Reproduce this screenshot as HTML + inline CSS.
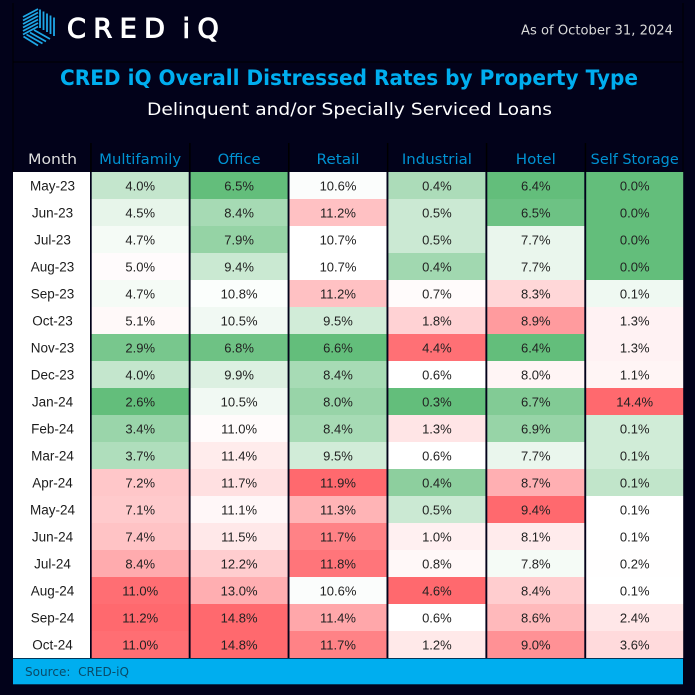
<!DOCTYPE html>
<html>
<head>
<meta charset="utf-8">
<title>CRED iQ Overall Distressed Rates by Property Type</title>
<style>
html,body{margin:0;padding:0;background:#02021a;width:695px;height:695px;overflow:hidden}
svg{display:block}
</style>
</head>
<body>
<svg id="chart" xmlns="http://www.w3.org/2000/svg" width="695" height="695" viewBox="0 0 695 695">
  <rect x="0" y="0" width="695" height="695" fill="#02021a"/>
  <path d="M13 3V172M683 3V172M13 62H683" stroke="#000" stroke-width="1" fill="none"/>
  <g stroke="#1ea7e6" stroke-width="1.8" fill="none">
    <path d="M23 17L38 9M23 20.500L38 12.500M23 24L38 16M23 27.500L38 19.500M23 31L38 23M23 34.500L38 26.500"/>
    <path d="M40 9.500V28M43.500 11.500V30M47 13.500V32M50.500 15.500V34M54 17.500V36"/>
    <path d="M34 30L50 39M30 32.500L46 41.500M26.500 34.500L42.500 43.500M23.500 36.500L38 45.500"/>
  </g>
  <text x="67" y="37.500" font-family="'DejaVu Sans',sans-serif" font-size="27" fill="#fff" stroke="#fff" stroke-width="1.1" letter-spacing="7.500" word-spacing="-6">CRED iQ</text>
  <text x="521" y="34.500" font-family="'DejaVu Sans',sans-serif" font-size="13" fill="#d9d9d9" textLength="152" lengthAdjust="spacingAndGlyphs">As of October 31, 2024</text>
  <text x="60" y="85" font-family="'DejaVu Sans',sans-serif" font-size="21" font-weight="bold" fill="#00aeef" textLength="578" lengthAdjust="spacingAndGlyphs">CRED iQ Overall Distressed Rates by Property Type</text>
  <text x="147" y="115" font-family="'DejaVu Sans',sans-serif" font-size="17" fill="#fff" textLength="405" lengthAdjust="spacingAndGlyphs">Delinquent and/or Specially Serviced Loans</text>
  <g id="headers"></g>
  <g id="months"></g>
  <g id="cells"></g>
  <rect x="13" y="658.700" width="670" height="25.600" fill="#00aeef"/>
  <text x="25" y="676" font-family="'DejaVu Sans',sans-serif" font-size="12" fill="#0a4a68" textLength="104" lengthAdjust="spacingAndGlyphs">Source:&#160;&#160;CRED-iQ</text>
</svg>
<script>
const months = ["May-23","Jun-23","Jul-23","Aug-23","Sep-23","Oct-23","Nov-23","Dec-23","Jan-24","Feb-24","Mar-24","Apr-24","May-24","Jun-24","Jul-24","Aug-24","Sep-24","Oct-24"];
const categories = ["Multifamily","Office","Retail","Industrial","Hotel","Self Storage"];
const multifamily = [4.0,4.5,4.7,5.0,4.7,5.1,2.9,4.0,2.6,3.4,3.7,7.2,7.1,7.4,8.4,11.0,11.2,11.0];
const office = [6.5,8.4,7.9,9.4,10.8,10.5,6.8,9.9,10.5,11.0,11.4,11.7,11.1,11.5,12.2,13.0,14.8,14.8];
const retail = [10.6,11.2,10.7,10.7,11.2,9.5,6.6,8.4,8.0,8.4,9.5,11.9,11.3,11.7,11.8,10.6,11.4,11.7];
const industrial = [0.44,0.5,0.5,0.42,0.7,1.8,4.4,0.6,0.3,1.3,0.6,0.38,0.5,1.0,0.8,4.6,0.6,1.2];
const hotel = [6.4,6.5,7.7,7.7,8.3,8.9,6.4,8.0,6.7,6.9,7.7,8.7,9.4,8.1,7.8,8.4,8.6,9.0];
const selfStorage = [0.0,0.0,0.0,0.0,0.09,1.3,1.3,1.1,14.4,0.07,0.07,0.06,0.1,0.1,0.2,0.1,2.4,3.6];
const series = [multifamily,office,retail,industrial,hotel,selfStorage];

const NS = "http://www.w3.org/2000/svg";
const xBand = i => 91.7 + i * 98.9;
const bandW = 97;
const yBand = r => 172 + r * 27;
const bandH = 27;

const GREEN = [99,190,123], WHITE = [255,255,255], RED = [255,105,110];
function median(a){
  const s = a.slice().sort((p,q)=>p-q), n = s.length;
  return n % 2 ? s[(n-1)/2] : (s[n/2-1]+s[n/2])/2;
}
function mix(a,b,t){
  t = Math.max(0,Math.min(1,t));
  return "rgb(" + a.map((v,k)=>Math.round(v+(b[k]-v)*t)).join(",") + ")";
}
function colorScale(values){
  const lo = Math.min.apply(null,values), hi = Math.max.apply(null,values), mid = median(values);
  return v => v <= mid
    ? mix(GREEN,WHITE,mid===lo?1:(v-lo)/(mid-lo))
    : mix(WHITE,RED,hi===mid?0:(v-mid)/(hi-mid));
}
function node(tag,parent,attrs,txt){
  const el = document.createElementNS(NS,tag);
  for (const k in attrs) el.setAttribute(k,attrs[k]);
  if (txt !== undefined) el.textContent = txt;
  parent.appendChild(el);
  return el;
}
const FONT = "'Liberation Sans',sans-serif";
const HEAD = "'DejaVu Sans',sans-serif";
const headers = document.getElementById("headers");
const monthsG = document.getElementById("months");
const cellsG = document.getElementById("cells");

const monthHead = node("text",headers,{x:52.500,y:164,"text-anchor":"middle","font-family":HEAD,"font-size":14,fill:"#dedede",textLength:49,lengthAdjust:"spacingAndGlyphs"},"Month");



const headWidths = [82,43,43,70,40,88];
categories.forEach((c,i)=>{
  const t = node("text",headers,{x:xBand(i)+bandW/2,y:164,"text-anchor":"middle","font-family":HEAD,"font-size":14,fill:"#0092d2",textLength:headWidths[i],lengthAdjust:"spacingAndGlyphs"},c);
  
  
  const sep = node("rect",headers,{x:xBand(i)-1.500,y:143,width:1.500,height:29,fill:"#000"});
  
  
});

const monthBg = node("rect",monthsG,{x:13,y:yBand(0),width:77,height:bandH*months.length,fill:"#fff"});



months.forEach((m,r)=>{
  const t = node("text",monthsG,{x:52.500,y:yBand(r)+bandH/2+5,"text-anchor":"middle","font-family":FONT,"font-size":13.500,fill:"#1c1c1c"},m);
  
  
});

series.forEach((vals,i)=>{
  const scale = colorScale(vals);
  vals.forEach((v,r)=>{
    const rect = node("rect",cellsG,{x:xBand(i),y:yBand(r),width:bandW,height:bandH,fill:scale(v)});
    
    
    const t = node("text",cellsG,{x:xBand(i)+bandW/2,y:yBand(r)+bandH/2+5,"text-anchor":"middle","font-family":FONT,"font-size":13,fill:"#222"},v.toFixed(1)+"%");
    
    
  });
});
</script>
</body>
</html>
